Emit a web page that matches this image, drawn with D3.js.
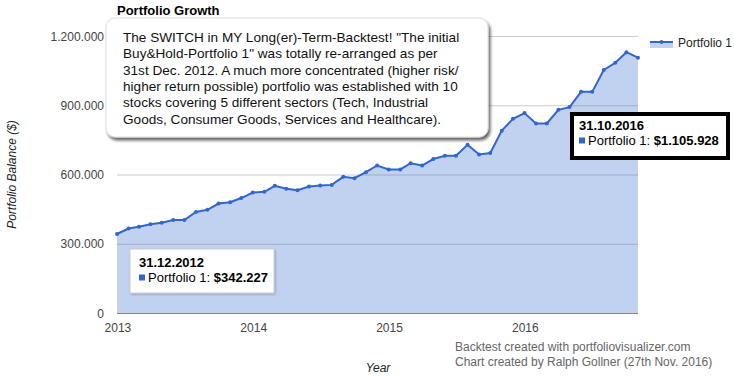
<!DOCTYPE html>
<html lang="en">
<head>
<meta charset="UTF-8">
<title>Portfolio Growth</title>
<script src="https://cdn.jsdelivr.net/npm/d3@7/dist/d3.min.js"></script>
<style>
    body { margin: 0; background: #fff; }
    svg { font-family: Arial, "Liberation Sans", sans-serif; }
    .grid line { stroke: #ccc; stroke-width: 1; }
    .axis text { fill: #444; font-size: 12px; }
</style>
</head>
<body>
<script>
    // month-end dates and portfolio balance
    const months = [
        '2012-12-31', '2013-01-31', '2013-02-28', '2013-03-31', '2013-04-30', '2013-05-31', '2013-06-30',
        '2013-07-31', '2013-08-31', '2013-09-30', '2013-10-31', '2013-11-30', '2013-12-31',
        '2014-01-31', '2014-02-28', '2014-03-31', '2014-04-30', '2014-05-31', '2014-06-30',
        '2014-07-31', '2014-08-31', '2014-09-30', '2014-10-31', '2014-11-30', '2014-12-31',
        '2015-01-31', '2015-02-28', '2015-03-31', '2015-04-30', '2015-05-31', '2015-06-30',
        '2015-07-31', '2015-08-31', '2015-09-30', '2015-10-31', '2015-11-30', '2015-12-31',
        '2016-01-31', '2016-02-29', '2016-03-31', '2016-04-30', '2016-05-31', '2016-06-30',
        '2016-07-31', '2016-08-31', '2016-09-30', '2016-10-31'
    ];
    const portfolio1 = [
        342227, 366000, 374000, 384000, 391000, 403000, 403000,
        438000, 447000, 474000, 480000, 498000, 522000,
        525000, 551000, 538000, 532000, 548000, 552000,
        555000, 590000, 584000, 610000, 639000, 622000,
        622000, 649000, 639000, 667000, 681000, 681000,
        729000, 687000, 693000, 790000, 841000, 866000,
        821000, 821000, 880000, 892000, 958000, 958000,
        1053000, 1084000, 1130000, 1105928
    ];
    const yTicks = [0, 300000, 600000, 900000, 1200000];
    const xTicks = ['2013-01-01', '2014-01-01', '2015-01-01', '2016-01-01'];
    const seriesName = 'Portfolio 1';
    const noteLines = [
        'The SWITCH in MY Long(er)-Term-Backtest! "The initial',
        'Buy&Hold-Portfolio 1" was totally re-arranged as per',
        '31st Dec. 2012. A much more concentrated (higher risk/',
        'higher return possible) portfolio was established with 10',
        'stocks covering 5 different sectors (Tech, Industrial',
        'Goods, Consumer Goods, Services and Healthcare).'
    ];

    const width = 734;
    const height = 378;
    const margin = {left: 117, right: 96, top: 36, bottom: 65};

    const parse = d3.timeParse('%Y-%m-%d');
    const data = months.map((m, i) => ({date: parse(m), value: portfolio1[i]}));

    const loc = d3.formatLocale({decimal: ',', thousands: '.', grouping: [3], currency: ['$', '']});
    const fmtNum = loc.format(',.0f');
    const fmtDate = d3.timeFormat('%d.%m.%Y');

    const x = d3.scaleTime()
        .domain([data[0].date, data[data.length - 1].date])
        .range([margin.left, width - margin.right]);
    const y = d3.scaleLinear()
        .domain([0, 1200000])
        .range([height - margin.bottom, margin.top]);

    const svg = d3.select('body').append('svg')
        .attr('width', width)
        .attr('height', height);

    const defs = svg.append('defs');
    const f = defs.append('filter').attr('id', 'shadow')
        .attr('x', '-5%').attr('y', '-5%').attr('width', '115%').attr('height', '120%');
    f.append('feDropShadow').attr('dx', 2).attr('dy', 3).attr('stdDeviation', 1.5)
        .attr('flood-color', '#000').attr('flood-opacity', 0.6);
    const f2 = defs.append('filter').attr('id', 'softShadow')
        .attr('x', '-10%').attr('y', '-10%').attr('width', '125%').attr('height', '130%');
    f2.append('feDropShadow').attr('dx', 1).attr('dy', 1).attr('stdDeviation', 1)
        .attr('flood-color', '#000').attr('flood-opacity', 0.25);

    // grid
    svg.append('g').attr('class', 'grid')
        .selectAll('line')
        .data(yTicks.slice(1))
        .enter().append('line')
        .attr('x1', margin.left).attr('x2', width - margin.right)
        .attr('y1', d => y(d) + 0.5).attr('y2', d => y(d) + 0.5);

    // area + line
    const area = d3.area().x(d => x(d.date)).y0(y(0)).y1(d => y(d.value));
    const line = d3.line().x(d => x(d.date)).y(d => y(d.value));

    svg.append('path').datum(data)
        .attr('d', area)
        .attr('fill', '#3366cc')
        .attr('fill-opacity', 0.3);

    svg.append('line')
        .attr('x1', margin.left).attr('x2', width - margin.right)
        .attr('y1', y(0) + 0.5).attr('y2', y(0) + 0.5)
        .attr('stroke', '#888').attr('stroke-width', 1);

    svg.append('path').datum(data)
        .attr('d', line)
        .attr('fill', 'none')
        .attr('stroke', '#3366cc')
        .attr('stroke-width', 2);

    svg.append('g').selectAll('circle')
        .data(data)
        .enter().append('circle')
        .attr('cx', d => x(d.date))
        .attr('cy', d => y(d.value))
        .attr('r', 2)
        .attr('fill', '#3366cc');

    // axes
    const yAxis = svg.append('g').attr('class', 'axis')
        .attr('transform', `translate(${margin.left - 13},0)`)
        .call(d3.axisLeft(y).tickValues(yTicks).tickFormat(fmtNum).tickSize(0).tickPadding(0));
    yAxis.select('.domain').remove();
    yAxis.selectAll('text').attr('dy', '0.35em');

    const xAxis = svg.append('g').attr('class', 'axis')
        .attr('transform', `translate(0,${y(0) + 9})`)
        .call(d3.axisBottom(x).tickValues(xTicks.map(parse)).tickFormat(d3.timeFormat('%Y')).tickSize(0).tickPadding(0));
    xAxis.select('.domain').remove();
    xAxis.selectAll('text').attr('dy', '0.8em');

    // titles
    svg.append('text')
        .attr('x', margin.left).attr('y', 15)
        .attr('font-size', 13).attr('font-weight', 'bold').attr('fill', '#000')
        .text('Portfolio Growth');

    svg.append('text')
        .attr('transform', `translate(16,${(y(0) + y(1200000)) / 2}) rotate(-90)`)
        .attr('text-anchor', 'middle')
        .attr('font-size', 12).attr('font-style', 'italic').attr('fill', '#222')
        .text('Portfolio Balance ($)');

    svg.append('text')
        .attr('x', 378).attr('y', 372)
        .attr('text-anchor', 'middle')
        .attr('font-size', 12).attr('font-style', 'italic').attr('fill', '#222')
        .text('Year');

    svg.append('g').attr('font-size', 12).attr('fill', '#666')
        .selectAll('text')
        .data(['Backtest created with portfoliovisualizer.com', 'Chart created by Ralph Gollner (27th Nov. 2016)'])
        .enter().append('text')
        .attr('x', 455).attr('y', (d, i) => 351 + i * 15)
        .text(d => d);

    // legend
    const lg = svg.append('g').attr('transform', 'translate(650,42)');
    lg.append('rect').attr('x', 0).attr('y', 0).attr('width', 23).attr('height', 6)
        .attr('fill', '#3366cc').attr('fill-opacity', 0.3);
    lg.append('line').attr('x1', 0).attr('x2', 23).attr('y1', 0).attr('y2', 0)
        .attr('stroke', '#3366cc').attr('stroke-width', 2);
    lg.append('circle').attr('cx', 11.5).attr('cy', 0).attr('r', 2).attr('fill', '#3366cc');
    lg.append('text').attr('x', 28).attr('y', 4.5)
        .attr('font-size', 12).attr('fill', '#222').text(seriesName);

    // annotation box
    const note = svg.append('g');
    note.append('rect')
        .attr('x', 106).attr('y', 18).attr('width', 382).attr('height', 119)
        .attr('rx', 9).attr('fill', '#fff').attr('stroke', '#ddd')
        .attr('filter', 'url(#shadow)');
    note.append('g').attr('font-size', 13.6).attr('fill', '#111')
        .selectAll('text')
        .data(noteLines)
        .enter().append('text')
        .attr('x', 123).attr('y', (d, i) => 42 + i * 16.3)
        .text(d => d);

    // tooltips
    function tooltip(d, bx, by, bw, bh, strong) {
        const g = svg.append('g');
        if (strong) {
            g.append('rect').attr('x', bx + 2).attr('y', by + 2).attr('width', bw - 4).attr('height', bh - 4)
                .attr('fill', '#fff').attr('stroke', '#000').attr('stroke-width', 4);
        } else {
            g.append('rect').attr('x', bx).attr('y', by).attr('width', bw).attr('height', bh)
                .attr('fill', '#fff').attr('stroke', '#ccc').attr('filter', 'url(#softShadow)');
        }
        g.append('text').attr('x', bx + 9).attr('y', by + 18)
            .attr('font-size', 13).attr('font-weight', 'bold').attr('fill', '#000')
            .text(fmtDate(d.date));
        g.append('rect').attr('x', bx + 9).attr('y', by + 25.5).attr('width', 6).attr('height', 6)
            .attr('fill', '#3366cc');
        const t = g.append('text').attr('x', bx + 18).attr('y', by + 33)
            .attr('font-size', 13).attr('fill', '#000');
        t.append('tspan').text(seriesName + ': ');
        t.append('tspan').attr('font-weight', 'bold').text('$' + fmtNum(d.value));
    }
    tooltip(data[0], 130, 249, 144, 44, false);
    tooltip(data[data.length - 1], 570, 112, 160, 48, true);
</script>
</body>
</html>
